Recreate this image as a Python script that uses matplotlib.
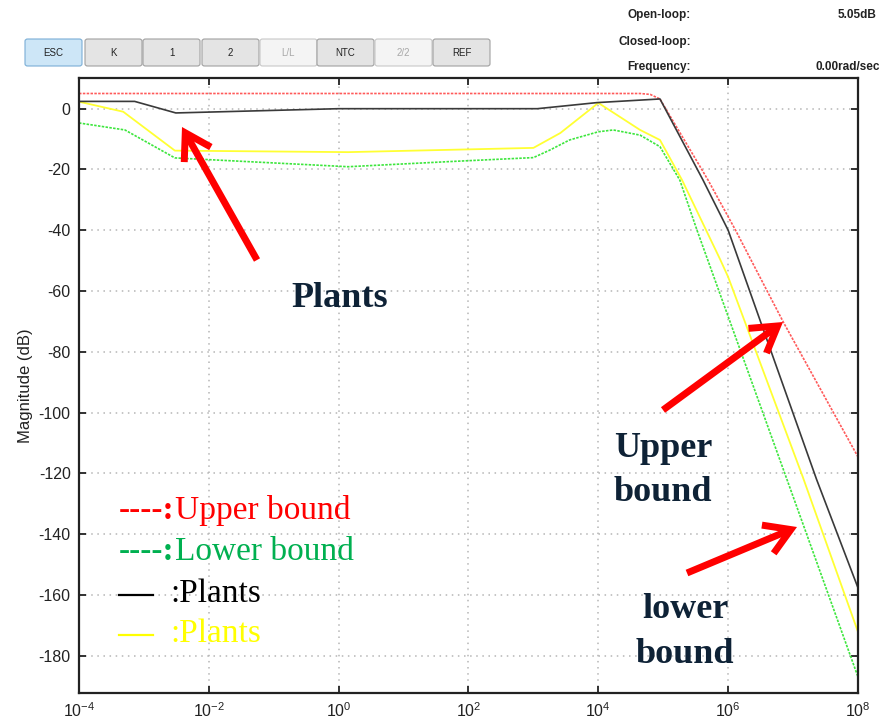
import matplotlib
matplotlib.use("Agg")
import matplotlib.pyplot as plt
from matplotlib.patches import FancyBboxPatch, FancyArrowPatch
from matplotlib.lines import Line2D

# ---------------- data ----------------
upper_freq = [1e-4, 4.4e4, 6.3e4, 8.9e4, 4.9e5, 1.3e6, 7.1e6, 1e8]
upper_db = [5.0, 5.0, 4.7, 3.2, -23.5, -40.0, -70.3, -114.6]

lower_freq = [1e-4, 5.1e-4, 3.0e-3, 1.4e0, 5.2e1, 1e3, 1.8e3, 3.6e3, 1e4, 1.7e4,
              4.4e4, 8.9e4, 1.8e5, 3.3e5, 8.1e6, 1e8]
lower_db = [-4.7, -7.0, -16.2, -19.1, -17.4, -16.1, -13.6, -10.3, -7.6, -7.0,
            -8.7, -12.5, -23.5, -39.9, -122.2, -187.0]

black_freq = [1e-4, 7.2e-4, 3.1e-3, 1e0, 1.15e3, 9.5e3, 8.9e4, 4.1e5, 1.0e6,
              4.5e6, 2.3e7, 1e8]
black_db = [2.4, 2.4, -1.4, 0.0, 0.0, 2.0, 3.2, -23.5, -40.0, -79.4, -122.0, -157.7]

yellow_freq = [1e-4, 4.8e-4, 3.0e-3, 1.4e0, 1e3, 2.6e3, 1e4, 4.4e4, 8.9e4, 1.95e5,
               7.6e5, 1e6, 1.4e7, 1e8]
yellow_db = [2.3, -1.0, -13.8, -14.3, -12.9, -8.0, 1.9, -7.0, -10.3, -23.5,
             -49.8, -55.4, -121.0, -172.2]

x_ticks = [1e-4, 1e-2, 1e0, 1e2, 1e4, 1e6, 1e8]
x_tick_labels = [r"$10^{-4}$", r"$10^{-2}$", r"$10^{0}$", r"$10^{2}$",
                 r"$10^{4}$", r"$10^{6}$", r"$10^{8}$"]
y_ticks = [0, -20, -40, -60, -80, -100, -120, -140, -160, -180]

buttons = ["ESC", "K", "1", "2", "L/L", "NTC", "2/2", "REF"]
status_labels = ["Open-loop:", "Closed-loop:", "Frequency:"]
status_values = ["5.05dB", "", "0.00rad/sec"]

# ---------------- figure ----------------
W, H = 885, 724
fig = plt.figure(figsize=(W / 100, H / 100), dpi=100)
plt.rcParams['mathtext.fontset'] = 'custom'
plt.rcParams['mathtext.rm'] = 'Liberation Sans'
plt.rcParams['mathtext.it'] = 'Liberation Sans'


def fx(px):
    return px / W


def fy(py):
    return 1 - py / H


ax = fig.add_axes([fx(79), fy(693), (858 - 79) / W, (693 - 78) / H])

ax.semilogx(upper_freq, upper_db, color='#ff5a5a', lw=1.2, ls=(0, (1.5, 0.8)))
ax.semilogx(lower_freq, lower_db, color='#3de63d', lw=1.2, ls=(0, (1.5, 0.8)))
ax.semilogx(yellow_freq, yellow_db, color='#ffff33', lw=1.3)
ax.semilogx(black_freq, black_db, color='#3a3a3a', lw=1.2)

ax.set_xlim(1e-4, 1e8)
ax.set_ylim(-192.3, 10.1)
ax.set_xticks(x_ticks)
ax.set_xticklabels(x_tick_labels)
ax.xaxis.set_minor_locator(matplotlib.ticker.NullLocator())
ax.set_yticks(y_ticks)
ax.set_yticklabels([str(v) for v in y_ticks])
ax.tick_params(direction='in', length=5, width=1.3, top=True, right=True,
               labelsize=11.5, colors='#222222', pad=6)
for lab in ax.get_xticklabels() + ax.get_yticklabels():
    lab.set_fontfamily('Liberation Sans')
for s in ax.spines.values():
    s.set_linewidth(1.6)
    s.set_color('#222222')
ax.grid(True, which='major', color='#b5b5b5', ls=(0, (1, 3)), lw=1.1)
ax.set_ylabel("Magnitude (dB)", fontsize=12, family='Liberation Sans',
              color='#222222', labelpad=4)

# ---------------- legend-like text ----------------
serif = 'Liberation Serif'
legend_fs = 24
fig.text(fx(119), fy(519), "----:", color='#ff0000', fontsize=legend_fs,
         family=serif, fontweight='bold', va='baseline')
fig.text(fx(175), fy(519), "Upper bound", color='#ff0000', fontsize=legend_fs,
         family=serif, va='baseline')
fig.text(fx(119), fy(560), "----:", color='#00b050', fontsize=legend_fs,
         family=serif, fontweight='bold', va='baseline')
fig.text(fx(175), fy(560), "Lower bound", color='#00b050', fontsize=legend_fs,
         family=serif, va='baseline')
fig.add_artist(Line2D([fx(119), fx(153)], [fy(595), fy(595)], color='black',
                      lw=1.6, transform=fig.transFigure))
fig.text(fx(170), fy(602), ":Plants", color='black', fontsize=legend_fs,
         family=serif, va='baseline')
fig.add_artist(Line2D([fx(119), fx(153)], [fy(635), fy(635)], color='#ffff00',
                      lw=1.6, transform=fig.transFigure))
fig.text(fx(170), fy(642), ":Plants", color='#ffff00', fontsize=legend_fs,
         family=serif, va='baseline')

# ---------------- annotations ----------------
ann_color = '#0e2236'
ann_fs = 26
fig.text(fx(340), fy(307), "Plants", color=ann_color, fontsize=ann_fs,
         family=serif, fontweight='bold', ha='center', va='baseline')
fig.text(fx(663), fy(457), "Upper", color=ann_color, fontsize=ann_fs,
         family=serif, fontweight='bold', ha='center', va='baseline')
fig.text(fx(663), fy(501), "bound", color=ann_color, fontsize=ann_fs,
         family=serif, fontweight='bold', ha='center', va='baseline')
fig.text(fx(685), fy(618), "lower", color=ann_color, fontsize=ann_fs,
         family=serif, fontweight='bold', ha='center', va='baseline')
fig.text(fx(685), fy(663), "bound", color=ann_color, fontsize=ann_fs,
         family=serif, fontweight='bold', ha='center', va='baseline')

for (x0, y0), (x1, y1) in [((257, 260), (182, 127)),
                           ((663, 410), (783, 322)),
                           ((687, 573), (797, 527))]:
    arr = FancyArrowPatch((fx(x0), fy(y0)), (fx(x1), fy(y1)),
                          transform=fig.transFigure,
                          arrowstyle='->,head_length=0.9,head_width=0.55',
                          color='#ff0000', lw=5.0, mutation_scale=20,
                          shrinkA=0, shrinkB=0, capstyle='butt',
                          joinstyle='miter')
    fig.add_artist(arr)

# ---------------- toolbar ----------------
btn_x = [25, 85, 143, 202, 260, 317, 375, 433]
btn_w = 57
for i, (name, bx) in enumerate(zip(buttons, btn_x)):
    disabled = name in ("L/L", "2/2")
    if name == "ESC":
        face, edge, tcol = '#cde6f7', '#7aaed6', '#222222'
    elif disabled:
        face, edge, tcol = '#f4f4f4', '#c8c8c8', '#a8a8a8'
    else:
        face, edge, tcol = '#e4e4e4', '#a0a0a0', '#222222'
    p = FancyBboxPatch((fx(bx), fy(66)), btn_w / W, 27 / H,
                       boxstyle='round,pad=0,rounding_size=0.003',
                       transform=fig.transFigure, facecolor=face,
                       edgecolor=edge, lw=0.8)
    fig.add_artist(p)
    fig.text(fx(bx + btn_w / 2), fy(52.5), name, fontsize=7, color=tcol,
             family='Liberation Sans', ha='center', va='center',
             fontstretch='condensed')

for lab, val, py in zip(status_labels, status_values, [15, 42, 67]):
    fig.text(fx(691), fy(py), lab, fontsize=8.5, color='#222222',
             family='Liberation Sans', fontweight='bold', ha='right',
             va='center')
    if val:
        fig.text(fx(838 if val.startswith("5") else 815), fy(py), val,
                 fontsize=8.5, color='#222222', family='Liberation Sans',
                 fontweight='bold', ha='left', va='center')

fig.savefig("out.png", dpi=100)
